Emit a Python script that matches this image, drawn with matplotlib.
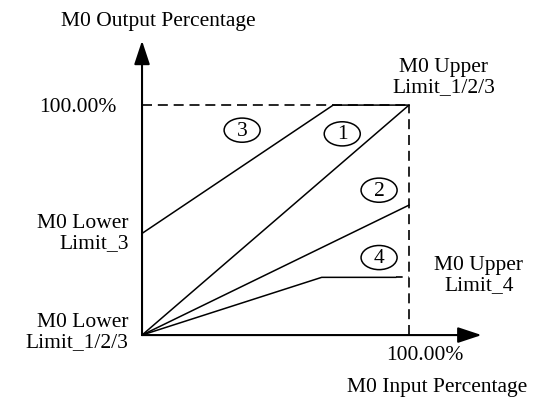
import matplotlib
matplotlib.use("Agg")
import matplotlib.pyplot as plt
from matplotlib.patches import Ellipse

plt.rcParams['font.family'] = ['Liberation Serif', 'DejaVu Serif']

# Data (fractions of 100%)
line1_x = [0.0, 1.0]
line1_y = [0.0, 1.0]
line2_x = [0.0, 1.0]
line2_y = [0.0, 0.565]
line3_x = [0.0, 0.716, 1.0]
line3_y = [0.442, 1.0, 1.0]
line4_x = [0.0, 0.673, 0.95]
line4_y = [0.0, 0.251, 0.251]
line4_dash_x = [0.95, 1.0]
line4_dash_y = [0.251, 0.251]
curve_labels = ['1', '2', '3', '4']
label_x = [0.75, 0.888, 0.375, 0.888]
label_y = [0.875, 0.630, 0.891, 0.337]

fig = plt.figure(figsize=(5.43, 3.99), dpi=100)
ax = fig.add_axes([0, 0, 1, 1])
ax.set_xlim(-0.532, 1.502)
ax.set_ylim(-0.278, 1.457)
ax.axis('off')

lw = 1.1
fs = 15.5
# dashed guide lines
ax.plot([0, 1], [1, 1], color='black', lw=1.2, linestyle=(0, (6, 3.5)))
ax.plot([1, 1], [0, 1], color='black', lw=1.2, linestyle=(0, (6, 3.5)))

# curves
ax.plot(line1_x, line1_y, color='black', lw=lw)
ax.plot(line2_x, line2_y, color='black', lw=lw)
ax.plot(line3_x, line3_y, color='black', lw=lw)
ax.plot(line4_x, line4_y, color='black', lw=lw)
ax.plot(line4_dash_x, line4_dash_y, color='black', lw=1.2, linestyle=(2, (6, 3.5)))

# axes arrows
arrow = dict(arrowstyle='-|>,head_length=1.45,head_width=0.48', mutation_scale=10,
             color='black', lw=1.5, shrinkA=0, shrinkB=0)
ax.annotate('', xy=(0, 1.28), xytext=(0, 0), arrowprops=arrow)
ax.annotate('', xy=(1.272, 0), xytext=(0, 0), arrowprops=arrow)

# circled labels
for t, x, y in zip(curve_labels, label_x, label_y):
    ax.add_patch(Ellipse((x, y), 0.135, 0.105, fill=False, edgecolor='black', lw=1.1))
    ax.text(x, y - 0.005, t, ha='center', va='center', fontsize=fs)

# texts
ax.text(0.06, 1.365, 'M0 Output Percentage', ha='center', va='center', fontsize=fs)
ax.text(-0.095, 0.99, '100.00%', ha='right', va='center', fontsize=fs)
ax.text(1.13, 1.12, 'M0 Upper\nLimit_1/2/3', ha='center', va='center', fontsize=fs, linespacing=1.1)
ax.text(-0.05, 0.44, 'M0 Lower\nLimit_3', ha='right', va='center', fontsize=fs, linespacing=1.1, multialignment='right')
ax.text(-0.05, 0.01, 'M0 Lower\nLimit_1/2/3', ha='right', va='center', fontsize=fs, linespacing=1.1, multialignment='right')
ax.text(1.262, 0.26, 'M0 Upper\nLimit_4', ha='center', va='center', fontsize=fs, linespacing=1.1)
ax.text(1.06, -0.09, '100.00%', ha='center', va='center', fontsize=fs)
ax.text(1.105, -0.23, 'M0 Input Percentage', ha='center', va='center', fontsize=fs)

fig.savefig('out.png', dpi=100)
